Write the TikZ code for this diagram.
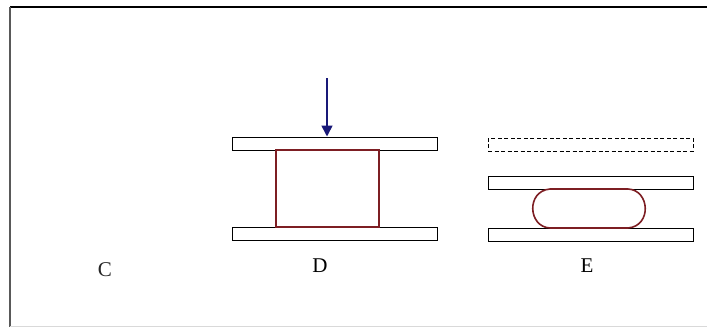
\documentclass[tikz,border=0pt]{standalone}
\usepackage{fontspec}
\setmainfont{Liberation Serif}
\usetikzlibrary{arrows.meta}
\definecolor{blobred}{RGB}{125,30,35}
\definecolor{arrowblue}{RGB}{25,25,120}
\begin{document}
\begin{tikzpicture}[x=1pt,y=-1pt,
  plate/.style={draw=black,line width=1pt,rectangle,inner sep=0pt,minimum width=205pt,minimum height=13pt},
  dplate/.style={plate,dash pattern=on 4pt off 2.5pt},
  lbl/.style={font=\fontsize{21}{21}\selectfont,inner sep=0pt}]
\useasboundingbox (0,0) rectangle (707,327);
\fill[white] (0,0) rectangle (707,327);
% frame
\draw[line width=1.6pt,black] (10,7) -- (707,7);
\draw[line width=1.6pt,black!65] (10,7) -- (10,327);
\draw[line width=1pt,black!15] (10,326) -- (707,326);
% D
\node[plate] (dtop) at (334.5,143.5) {};
\node[plate] (dbot) at (334.5,234) {};
\node[draw=blobred,line width=1.6pt,rectangle,inner sep=0pt,minimum width=103pt,minimum height=77pt] (dbox) at (327.5,188.5) {};
\coordinate (astart) at (327,78);
\draw[arrowblue,line width=1.6pt,-{Triangle[length=11pt,width=11pt]}] (astart) -- (dtop.north -| astart);
% E
\node[dplate] (etop) at (590.5,144.5) {};
\node[plate] (emid) at (590.5,182.5) {};
\node[plate] (ebot) at (590.5,234.5) {};
\draw[blobred,line width=1.6pt] (550,189) -- (628,189) .. controls (650,190) and (652,226) .. (628,228) -- (550,228) .. controls (528,227) and (526,191) .. (550,189);
% labels
\node[lbl,text=black!85] (lc) at (105,270) {C};
\node[lbl] (ld) at (320,266) {D};
\node[lbl] (le) at (587,266) {E};
\end{tikzpicture}
\end{document}
